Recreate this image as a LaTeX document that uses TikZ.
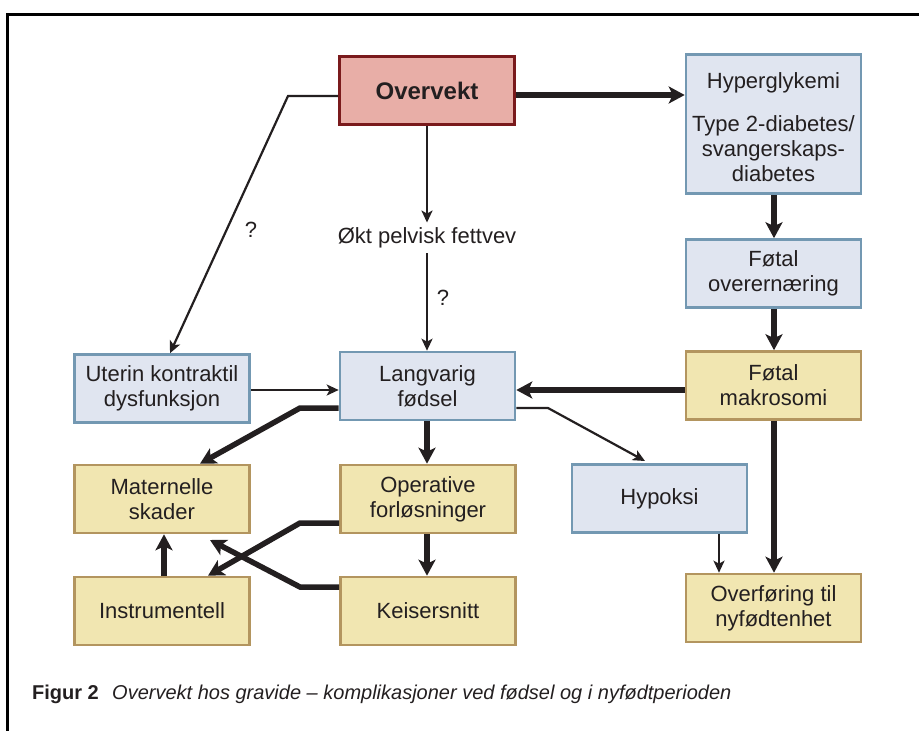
\documentclass[tikz,border=0pt]{standalone}
\usepackage{fontspec}
\setmainfont{Liberation Sans}
\usetikzlibrary{arrows.meta}
\definecolor{ink}{HTML}{231F20}
\definecolor{redfill}{HTML}{E8AEA7}
\definecolor{rededge}{HTML}{7A1A1C}
\definecolor{bluefill}{HTML}{E0E5F0}
\definecolor{blueedge}{HTML}{7398B2}
\definecolor{yfill}{HTML}{F1E6B1}
\definecolor{yedge}{HTML}{B3955F}
\begin{document}
\begin{tikzpicture}[x=1pt,y=-1pt,
  box/.style={draw, line width=2.6pt, minimum width=175pt, minimum height=68pt, inner sep=0pt, align=center, text=ink, font=\fontsize{22}{25}\selectfont},
  bluebox/.style={box, draw=blueedge, fill=bluefill},
  yellowbox/.style={box, draw=yedge, fill=yfill},
  redbox/.style={box, draw=rededge, fill=redfill, font=\fontsize{24}{28}\selectfont\bfseries},
  thickarrow/.style={draw=ink, line width=5.5pt, -{Stealth[length=16pt,width=17pt,inset=4pt]}},
  thinarrow/.style={draw=ink, line width=2.2pt, -{Stealth[length=12pt,width=11pt,inset=3pt]}},
  lbl/.style={text=ink, font=\fontsize{22}{25}\selectfont, inner sep=0pt},
  frameline/.style={draw=black, line width=3pt}
]
\useasboundingbox (0,0) rectangle (919,731);
\draw[frameline] (7,731) -- (7,14) -- (919,14);

% nodes
\node[redbox] (over) at (427,90.5) {Overvekt};
\node[bluebox, minimum height=139.5pt] (hyper) at (773.5,124) {\rule{0pt}{22pt}Hyperglykemi\\[18pt]Type 2-diabetes/\\svangerskaps-\\diabetes};
\node[bluebox] (overern) at (773.5,273.5) {Føtal\\overernæring};
\node[yellowbox] (makro) at (773.5,385.5) {Føtal\\makrosomi};
\node[yellowbox] (overf) at (773.5,608) {Overføring til\\nyfødtenhet};
\node[bluebox] (lang) at (427.5,386) {Langvarig\\fødsel};
\node[bluebox] (uterin) at (162,388.5) {Uterin kontraktil\\dysfunksjon};
\node[yellowbox] (mater) at (162,499) {Maternelle\\skader};
\node[yellowbox] (oper) at (428,499) {Operative\\forløsninger};
\node[bluebox] (hypoksi) at (659.5,498.5) {Hypoksi};
\node[yellowbox] (instr) at (162,611) {Instrumentell};
\node[yellowbox] (keiser) at (428,611) {Keisersnitt};
\node[lbl, inner sep=5pt] (okt) at (427,238) {Økt pelvisk fettvev};
\node[lbl] (q1) at (251,230) {?};
\node[lbl] (q2) at (443,298) {?};

% helper coordinates
\coordinate (y95) at (0,95);
\coordinate (y96) at (0,96);
\coordinate (y390) at (0,390);
\coordinate (y408) at (0,408);
\coordinate (y523) at (0,523);
\coordinate (y587) at (0,587);
\coordinate (x164) at (164,0);
\coordinate (x170) at (170,0);
\coordinate (x200) at (200,0);
\coordinate (x208) at (208,0);
\coordinate (x719) at (719,0);
\coordinate (x774) at (774,0);
\coordinate (b1) at (288,96);
\coordinate (b2) at (300,408);
\coordinate (b3) at (300,523);
\coordinate (b4) at (300,587);
\coordinate (b5) at (548,408);
\coordinate (t1) at (210,540);
\coordinate (t2) at (645,461);

% connectors
\draw[thickarrow] (over.east |- y95) -- (hyper.west |- y95);
\draw[thinarrow] (over.west |- y96) -- (b1) -- (uterin.north -| x170);
\draw[thinarrow] (over.south) -- (okt.north);
\draw[thinarrow] (okt.south) -- (okt.south |- lang.north);
\draw[thinarrow] (uterin.east |- y390) -- (lang.west |- y390);
\draw[thickarrow] (lang.west |- y408) -- (b2) -- (mater.north -| x200);
\draw[thickarrow] (lang.south -| okt.south) -- (oper.north -| okt.south);
\draw[thickarrow] (oper.south -| okt.south) -- (keiser.north -| okt.south);
\draw[thickarrow] (oper.west |- y523) -- (b3) -- (instr.north -| x208);
\draw[thickarrow] (keiser.west |- y587) -- (b4) -- (t1);
\draw[thickarrow] (instr.north -| x164) -- (mater.south -| x164);
\draw[thickarrow] (makro.west |- y390) -- (lang.east |- y390);
\draw[thinarrow] (lang.east |- y408) -- (b5) -- (t2);
\draw[thinarrow] (hypoksi.south -| x719) -- (overf.north -| x719);
\draw[thickarrow] (makro.south -| x774) -- (overf.north -| x774);
\draw[thickarrow] (hyper.south -| x774) -- (overern.north -| x774);
\draw[thickarrow] (overern.south -| x774) -- (makro.north -| x774);

% caption
\node[anchor=base west, inner sep=0pt, text=ink, font=\fontsize{20}{24}\selectfont\bfseries] (figlbl) at (32,699) {Figur 2};
\node[anchor=base west, inner sep=0pt, text=ink, font=\fontsize{20}{24}\selectfont\itshape] (figtxt) at (112,699) {Overvekt hos gravide – komplikasjoner ved fødsel og i nyfødtperioden};
\end{tikzpicture}
\end{document}
